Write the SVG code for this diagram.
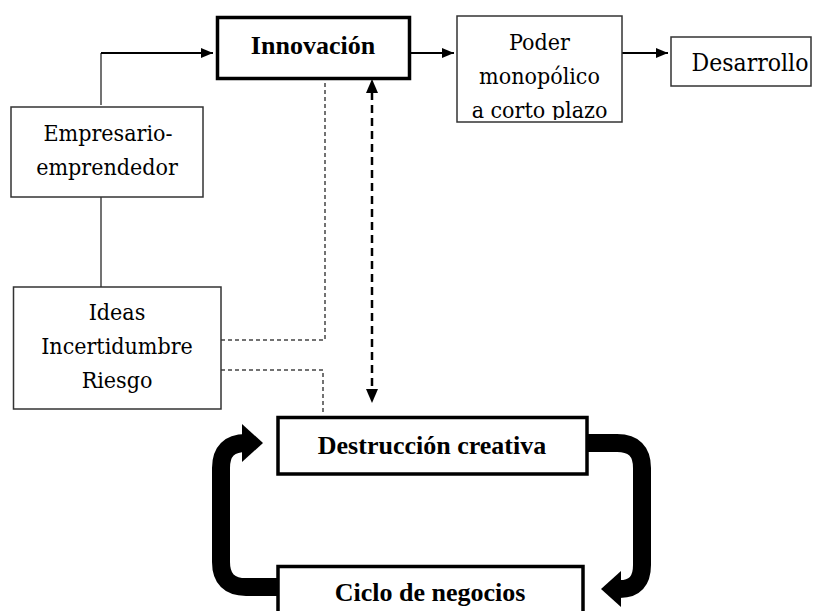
<svg xmlns="http://www.w3.org/2000/svg" width="813" height="611" viewBox="0 0 813 611">
<style>
.thin{fill:#fff;stroke:#333;stroke-width:1.5}
.thick{fill:#fff;stroke:#000;stroke-width:3.5}
text{font-family:'Liberation Serif','DejaVu Serif Condensed','DejaVu Serif',serif;font-size:26px;fill:#000;text-anchor:middle}
text.r{font-family:'DejaVu Serif Condensed','DejaVu Serif',serif;font-size:23px}
text.b{font-weight:bold}
.ln{fill:none;stroke:#000;stroke-width:2}
.gl{fill:none;stroke:#444;stroke-width:1.5}
.dot{fill:none;stroke:#444;stroke-width:1.5;stroke-dasharray:4 3}
.dash{fill:none;stroke:#000;stroke-width:2.5;stroke-dasharray:8 5}
.band{fill:none;stroke:#000;stroke-width:18}
</style>
<defs>
<marker id="ah" markerWidth="12" markerHeight="10" refX="12" refY="5" orient="auto" markerUnits="userSpaceOnUse">
<path d="M0,0 L12,5 L0,10 Z" fill="#000"/>
</marker>
<clipPath id="pclip"><rect x="458" y="17" width="163" height="103"/></clipPath>
</defs>
<g id="connectors">
<path class="gl" d="M101,105 V53"/>
<path class="ln" d="M101,53 H213" marker-end="url(#ah)"/>
<path class="ln" d="M411,53 H454" marker-end="url(#ah)"/>
<path class="ln" d="M622,53 H668" marker-end="url(#ah)"/>
<path class="gl" d="M101,197 V287"/>
<path class="dot" d="M221,340 H325 V80"/>
<path class="dot" d="M221,370 H323 V414"/>
<path class="dash" d="M372,92 V390"/>
<path d="M366,93 L372,79 L378,93 Z" fill="#000"/>
<path d="M366,389 L372,403 L378,389 Z" fill="#000"/>
<path class="band" d="M277,587 H246 Q221,587 221,562 V468 Q221,443 246,443"/>
<path d="M242,424 L263,443 L242,462 Z" fill="#000"/>
<path class="band" d="M587,443 H617 Q642,443 642,468 V565 Q642,589 620,589"/>
<path d="M621,571 L601,589 L621,607 Z" fill="#000"/>
</g>
<g id="innovacion">
<rect class="thick" x="217.5" y="17.5" width="192" height="61"/>
<text class="b" x="313" y="54">Innovación</text>
</g>
<g id="poder">
<rect class="thin" x="457" y="16" width="165" height="106"/>
<g clip-path="url(#pclip)">
<text class="r" x="539.5" y="50">Poder</text>
<text class="r" x="539.5" y="84">monopólico</text>
<text class="r" x="539.5" y="118">a corto plazo</text>
</g>
</g>
<g id="desarrollo">
<rect class="thin" x="671" y="37" width="140" height="49"/>
<text class="r" x="750" y="71" style="font-size:24.5px">Desarrollo</text>
</g>
<g id="empresario">
<rect class="thin" x="11" y="107" width="192" height="90"/>
<text class="r" x="108" y="141">Empresario-</text>
<text class="r" x="107" y="175">emprendedor</text>
</g>
<g id="ideas">
<rect class="thin" x="13.5" y="287" width="207.5" height="122"/>
<text class="r" x="117" y="320">Ideas</text>
<text class="r" x="117" y="354">Incertidumbre</text>
<text class="r" x="117" y="388">Riesgo</text>
</g>
<g id="destruccion">
<rect class="thick" x="278" y="417.5" width="309" height="56.5"/>
<text class="b" x="432" y="454">Destrucción creativa</text>
</g>
<g id="ciclo">
<rect class="thick" x="278" y="566.5" width="305" height="60"/>
<text class="b" x="430" y="601">Ciclo de negocios</text>
</g>
</svg>
